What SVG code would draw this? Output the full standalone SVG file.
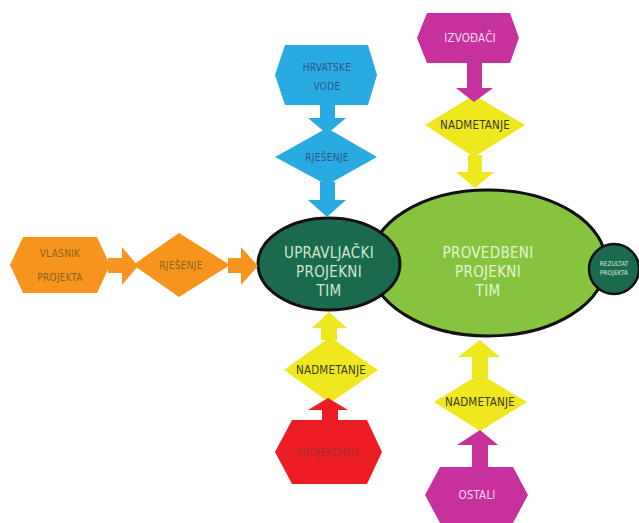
<svg xmlns="http://www.w3.org/2000/svg" width="639" height="523" viewBox="0 0 639 523">
<style>
text{font-family:"DejaVu Sans Condensed","DejaVu Sans","Liberation Sans",sans-serif;text-anchor:middle;dominant-baseline:central}
.blue{fill:#29abe2}
.mag{fill:#c7319b}
.ora{fill:#f7941e}
.yel{fill:#efe81e}
.red{fill:#ec1c24}
.t9{font-size:10px;letter-spacing:0.3px}
.t11{font-size:11.5px;letter-spacing:0.2px}
.t14{font-size:15px;letter-spacing:0.3px}
</style>
<rect width="639" height="523" fill="#ffffff"/>
<g id="node-proveden">
<ellipse cx="488" cy="263" rx="118" ry="73" fill="#86c440" stroke="#111" stroke-width="3"/>
<text x="488" y="253" class="t14" fill="#e4f3cf">PROVEDBENI</text>
<text x="488" y="272" class="t14" fill="#e4f3cf">PROJEKNI</text>
<text x="488" y="291" class="t14" fill="#e4f3cf">TIM</text>
</g>
<g id="node-upravljacki">
<ellipse cx="329" cy="264" rx="71" ry="46" fill="#1b6a4d" stroke="#111" stroke-width="3"/>
<text x="329" y="253" class="t14" fill="#cfe7cd">UPRAVLJAČKI</text>
<text x="329" y="272" class="t14" fill="#cfe7cd">PROJEKNI</text>
<text x="329" y="291" class="t14" fill="#cfe7cd">TIM</text>
</g>
<g id="node-rezultat">
<circle cx="614" cy="269" r="25" fill="#1b6a4d" stroke="#111" stroke-width="2.5"/>
<text x="614" y="264" font-size="6.5" fill="#d8eed8">REZULTAT</text>
<text x="614" y="273" font-size="6.5" fill="#d8eed8">PROJEKTA</text>
</g>
<g id="node-hrvatske-vode">
<polygon class="blue" points="285,45 368,45 377,75 368,105 285,105 275,75"/>
<text x="327" y="67" class="t9" fill="#34508a">HRVATSKE</text>
<text x="327" y="86" class="t9" fill="#34508a">VODE</text>
</g>
<g id="node-rjesenje-blue">
<polygon class="blue" points="327,128 377,157 327,185 275,157"/>
<text x="327" y="157" class="t9" fill="#34508a">RJEŠENJE</text>
</g>
<g id="node-izvodaci">
<polygon class="mag" points="427,13 510,13 519,38 510,63 427,63 417,38"/>
<text x="470" y="38" class="t11" fill="#f6d8f0">IZVOĐAČI</text>
</g>
<g id="node-nadmetanje-top">
<polygon class="yel" points="474,95 525,125 474,157 425,125"/>
<text x="475" y="125" class="t11" fill="#3a3a1a">NADMETANJE</text>
</g>
<g id="node-vlasnik">
<polygon class="ora" points="23,237 97,237 110,265 97,293 23,293 10,265"/>
<text x="60" y="253" class="t9" fill="#86641a">VLASNIK</text>
<text x="60" y="277" class="t9" fill="#86641a">PROJEKTA</text>
</g>
<g id="node-rjesenje-orange">
<polygon class="ora" points="179,233 230,265 179,297 133,265"/>
<text x="181" y="265" class="t9" fill="#86641a">RJEŠENJE</text>
</g>
<g id="node-nadmetanje-left">
<polygon class="yel" points="330,337 378,370 330,403 284,370"/>
<text x="331" y="370" class="t11" fill="#3a3a1a">NADMETANJE</text>
</g>
<g id="node-projektanti">
<polygon class="red" points="292,420 367,420 382,452 367,484 292,484 275,452"/>
<text x="328" y="452" class="t9" fill="#9e3430">PROJEKTANTI</text>
</g>
<g id="node-nadmetanje-right">
<polygon class="yel" points="480,374 527,402 480,431 434,402"/>
<text x="480" y="402" class="t11" fill="#3a3a1a">NADMETANJE</text>
</g>
<g id="node-ostali">
<polygon class="mag" points="440,467 513,467 528,495 513,523 440,523 425,495"/>
<text x="477" y="495" class="t11" fill="#f6d8f0">OSTALI</text>
</g>
<g id="connectors">
<polygon class="blue" points="320,104 335,104 335,118 346,118 327,134 308,118 320,118"/>
<polygon class="blue" points="320,182 335,182 335,200 346,200 327,217 308,200 320,200"/>
<polygon class="mag" points="467,62 482,62 482,88 493,88 474,102 456,88 467,88"/>
<polygon class="yel" points="468,155 482,155 482,172 494,172 475,188 456,172 468,172"/>
<polygon class="ora" points="108,258 122,258 122,247 138,266 122,285 122,273 108,273"/>
<polygon class="ora" points="228,258 241,258 241,247 258,266 241,285 241,273 228,273"/>
<polygon class="yel" points="321,340 321,328 312,328 329,312 347,328 337,328 337,340"/>
<polygon class="red" points="322,422 322,410 308,410 328,398 348,410 338,410 338,422"/>
<polygon class="yel" points="472,378 472,357 458,357 480,340 500,357 488,357 488,378"/>
<polygon class="mag" points="472,468 472,445 457,445 480,430 498,445 488,445 488,468"/>
</g>
</svg>
